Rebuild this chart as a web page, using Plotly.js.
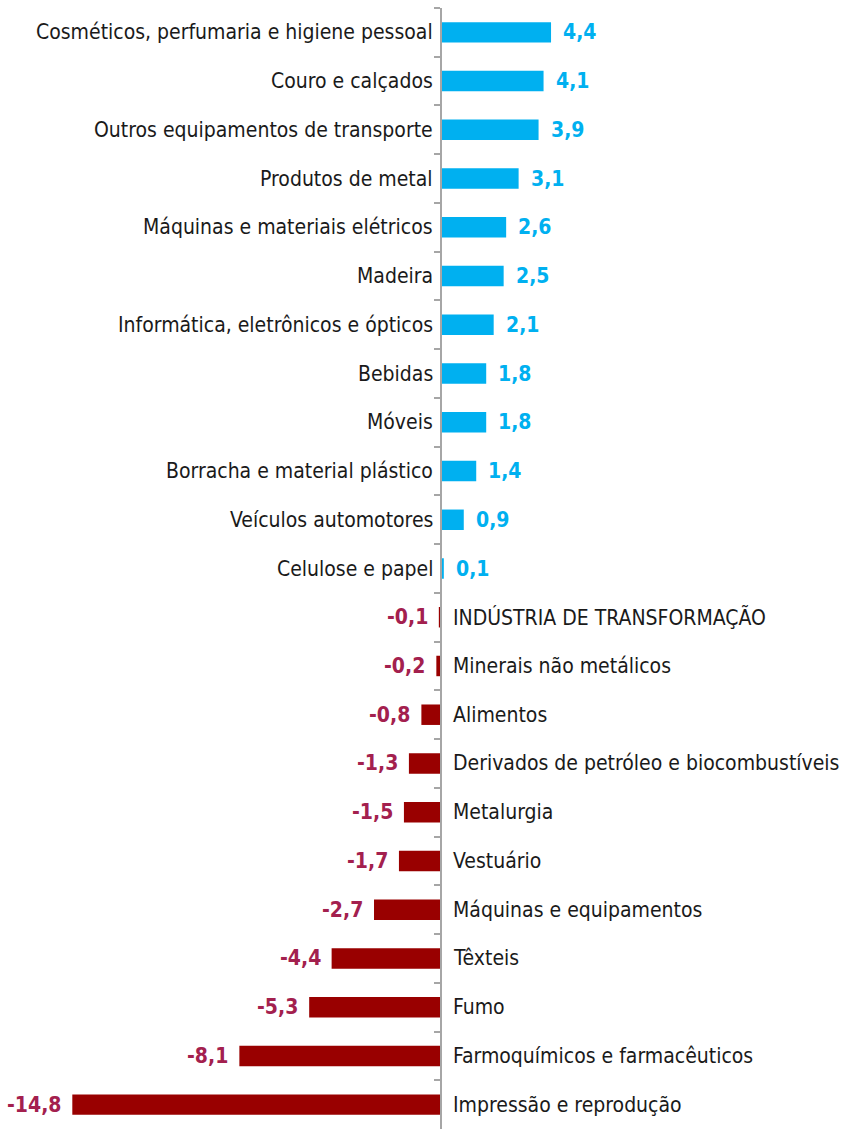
<!DOCTYPE html>
<html>
<head>
<meta charset="utf-8">
<script src="https://cdn.plot.ly/plotly-3.0.1.min.js"></script>
<style>html,body{margin:0;padding:0;background:#fff;}#chart{width:847px;height:1129px;}</style>
</head>
<body>
<div id="chart"></div>
<script>
const categories = [
  "Cosméticos, perfumaria e higiene pessoal",
  "Couro e calçados",
  "Outros equipamentos de transporte",
  "Produtos de metal",
  "Máquinas e materiais elétricos",
  "Madeira",
  "Informática, eletrônicos e ópticos",
  "Bebidas",
  "Móveis",
  "Borracha e material plástico",
  "Veículos automotores",
  "Celulose e papel",
  "INDÚSTRIA DE TRANSFORMAÇÃO",
  "Minerais não metálicos",
  "Alimentos",
  "Derivados de petróleo e biocombustíveis",
  "Metalurgia",
  "Vestuário",
  "Máquinas e equipamentos",
  "Têxteis",
  "Fumo",
  "Farmoquímicos e farmacêuticos",
  "Impressão e reprodução"
];
const values = [4.4, 4.1, 3.9, 3.1, 2.6, 2.5, 2.1, 1.8, 1.8, 1.4, 0.9, 0.1,
  -0.1, -0.2, -0.8, -1.3, -1.5, -1.7, -2.7, -4.4, -5.3, -8.1, -14.8];

const POS = "#00B0F0", NEG = "#990000", NEG_LABEL = "#A3204E";
const FONT = "'DejaVu Sans Condensed', 'Liberation Sans Narrow', sans-serif";
const xr = [-17.7, 16.27];

const fmt = v => v.toFixed(1).replace('.', ',');

const trace = {
  type: 'bar', orientation: 'h',
  x: values, y: categories,
  marker: {color: values.map(v => v >= 0 ? POS : NEG)},
  hoverinfo: 'skip',
  width: 0.42
};

const annotations = [];
categories.forEach((c, i) => {
  const v = values[i];
  const pos = v >= 0;
  annotations.push({
    x: 0, y: c, xref: 'x', yref: 'y', text: c, showarrow: false,
    xanchor: pos ? 'right' : 'left', xshift: pos ? -6 : 10,
    font: {family: FONT, size: 21, color: '#1a1a1a'}
  });
  annotations.push({
    x: v, y: c, xref: 'x', yref: 'y', text: '<b>' + fmt(v) + '</b>', showarrow: false,
    xanchor: pos ? 'left' : 'right', xshift: pos ? 10 : -9,
    font: {family: FONT, size: 21, color: pos ? POS : NEG_LABEL}
  });
});

const layout = {
  width: 847, height: 1129,
  margin: {l: 0, r: 0, t: 8, b: 0},
  paper_bgcolor: '#fff', plot_bgcolor: '#fff',
  showlegend: false,
  xaxis: {range: xr, visible: false, fixedrange: true},
  yaxis: {
    type: 'category', autorange: 'reversed',
    showticklabels: false, showgrid: false, zeroline: false,
    showline: true, linecolor: '#A6A6A6', linewidth: 2,
    ticks: 'outside', tickson: 'boundaries', ticklen: 6, tickcolor: '#A6A6A6', tickwidth: 2,
    anchor: 'free', position: (0 - xr[0]) / (xr[1] - xr[0])
  },
  annotations: annotations
};

Plotly.newPlot('chart', [trace], layout, {displayModeBar: false, staticPlot: true});
</script>
</body>
</html>
